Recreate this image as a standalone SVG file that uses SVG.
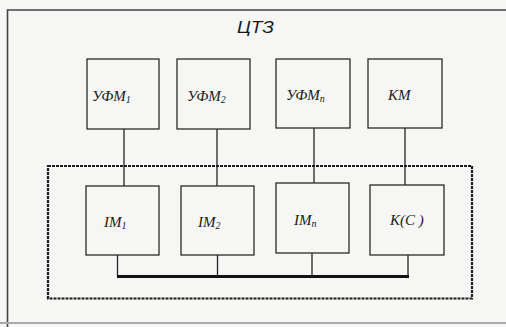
<svg xmlns="http://www.w3.org/2000/svg" width="506" height="327" viewBox="0 0 506 327">
<style>
.box{fill:none;stroke:#2a2a2a;stroke-width:1.3}
.lbl{font-family:"Liberation Serif",serif;font-style:italic;font-size:15px;fill:#1a1a1a}
.sub{font-size:10px}
.wire{fill:none;stroke:#222;stroke-width:1.3}
</style>
<rect x="0" y="0" width="506" height="327" fill="#f6f6f4"/>
<g id="frame">
<polyline points="506,10 7.5,10 7.5,327" fill="none" stroke="#444" stroke-width="1.6"/>
<line x1="0" y1="323" x2="506" y2="323" stroke="#aaa" stroke-width="2"/>
<text x="237" y="33" font-family="Liberation Sans,sans-serif" font-style="italic" font-size="16" fill="#1a1a1a" textLength="37" lengthAdjust="spacingAndGlyphs">ЦТЗ</text>
</g>
<g id="group">
<rect x="48" y="166" width="424" height="132.5" fill="none" stroke="#1a1a1a" stroke-width="2.2" stroke-dasharray="3,1"/>
</g>
<g id="connectors">
<line class="wire" x1="124" y1="129" x2="124" y2="186"/>
<line class="wire" x1="217" y1="129" x2="217" y2="186"/>
<line class="wire" x1="314" y1="128" x2="314" y2="183"/>
<line class="wire" x1="405" y1="128" x2="405" y2="185"/>
<line class="wire" x1="117.5" y1="255" x2="117.5" y2="276"/>
<line class="wire" x1="217.5" y1="255" x2="217.5" y2="276"/>
<line class="wire" x1="312" y1="253" x2="312" y2="276"/>
<line class="wire" x1="408" y1="255" x2="408" y2="276"/>
<line x1="117" y1="276.5" x2="409" y2="276.5" stroke="#111" stroke-width="3"/>
</g>
<g id="ufm1"><rect class="box" x="87" y="59" width="72" height="70"/><text class="lbl" x="92" y="101">УФМ<tspan class="sub" dy="2">1</tspan></text></g>
<g id="ufm2"><rect class="box" x="177" y="59" width="73" height="70"/><text class="lbl" x="187" y="101">УФМ<tspan class="sub" dy="2">2</tspan></text></g>
<g id="ufmn"><rect class="box" x="276" y="59" width="74" height="69"/><text class="lbl" x="286" y="100">УФМ<tspan class="sub" dy="2">n</tspan></text></g>
<g id="km"><rect class="box" x="368" y="59" width="74" height="69"/><text class="lbl" x="388" y="100">КМ</text></g>
<g id="im1"><rect class="box" x="86" y="186" width="73" height="69"/><text class="lbl" x="104" y="227">IM<tspan class="sub" dy="2">1</tspan></text></g>
<g id="im2"><rect class="box" x="181" y="186" width="73" height="69"/><text class="lbl" x="198" y="227">IM<tspan class="sub" dy="2">2</tspan></text></g>
<g id="imn"><rect class="box" x="276" y="183" width="73" height="70"/><text class="lbl" x="294" y="225">IM<tspan class="sub" dy="2">n</tspan></text></g>
<g id="kc"><rect class="box" x="370" y="185" width="74" height="70"/><text class="lbl" x="390" y="225">K(C )</text></g>
</svg>
